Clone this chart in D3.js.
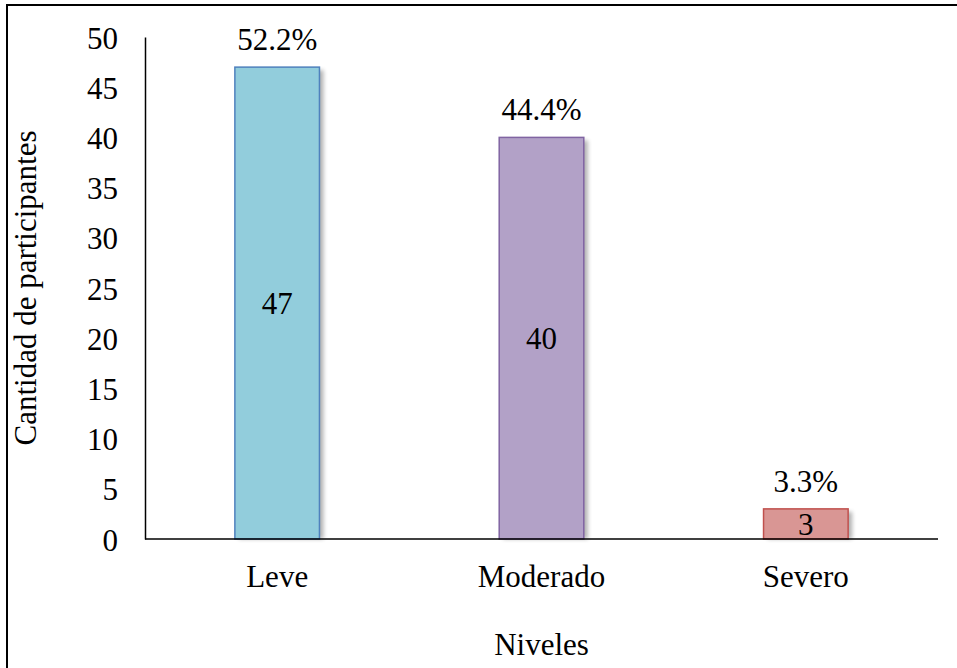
<!DOCTYPE html>
<html>
<head>
<meta charset="utf-8">
<script src="https://cdn.jsdelivr.net/npm/d3@7"></script>
</head>
<body style="margin:0">
<svg id="chart" width="957" height="668"></svg>
<script>
var categories = ["Leve", "Moderado", "Severo"];
var counts = [47, 40, 3];
var percents = ["52.2%", "44.4%", "3.3%"];
var fills = ["#92CDDC", "#B2A1C7", "#D99694"];
var strokes = ["#4F81BD", "#8064A2", "#C0504D"];
var yTicks = [0, 5, 10, 15, 20, 25, 30, 35, 40, 45, 50];

var svg = d3.select("#chart");

function serif(sel) {
    sel.style("font-family", "'Liberation Serif', 'Times New Roman', serif", "important")
       .style("font-size", "31px", "important")
       .style("fill", "#000");
}

// outer frame (runs off the right and bottom edge)
svg.append("rect")
    .attr("x", 7).attr("y", 5)
    .attr("width", 1000).attr("height", 700)
    .attr("fill", "none")
    .attr("stroke", "#000")
    .attr("stroke-width", 2);

var plotLeft = 145, plotRight = 938, plotTop = 37, plotBottom = 539;

var x = d3.scaleBand().domain(categories).range([plotLeft, plotRight]).paddingInner(0.68).paddingOuter(0.34);
var y = d3.scaleLinear().domain([0, 50]).range([plotBottom, plotTop]);

var g = svg.append("g");

// soft shadow to the lower right of each bar
g.selectAll(".shade")
    .data(counts)
    .enter().append("rect")
    .attr("class", "shade")
    .attr("x", function(d, i) { return x(categories[i]) + 4; })
    .attr("y", function(d) { return y(d) + 3; })
    .attr("width", x.bandwidth())
    .attr("height", function(d) { return y(0) - y(d) - 3; })
    .attr("fill", "#000")
    .attr("opacity", 0.3)
    .style("filter", "blur(2px)");

// bars
g.selectAll(".bar")
    .data(counts)
    .enter().append("rect")
    .attr("class", "bar")
    .attr("x", function(d, i) { return x(categories[i]); })
    .attr("y", function(d) { return y(d); })
    .attr("width", x.bandwidth())
    .attr("height", function(d) { return y(0) - y(d); })
    .attr("fill", function(d, i) { return fills[i]; })
    .attr("stroke", function(d, i) { return strokes[i]; })
    .attr("stroke-width", 1.5);

// y axis
var yAxis = g.append("g")
    .attr("transform", "translate(" + plotLeft + ",0)")
    .call(d3.axisLeft(y).tickValues(yTicks).tickSize(0).tickPadding(27));
yAxis.attr("font-family", null).attr("font-size", null);
yAxis.select(".domain").attr("stroke", "#000").attr("stroke-width", 1.5);
yAxis.selectAll("text")
    .call(serif)
    .attr("dy", "0.36em");

// x axis
var xAxis = g.append("g")
    .attr("transform", "translate(0," + plotBottom + ")")
    .call(d3.axisBottom(x).tickSize(0).tickPadding(26));
xAxis.attr("font-family", null).attr("font-size", null);
xAxis.select(".domain").attr("stroke", "#000").attr("stroke-width", 1.5)
    .attr("d", "M" + plotLeft + ",0H" + plotRight);
xAxis.selectAll("text")
    .call(serif)
    .attr("dy", "0.71em");

// value labels inside the bars
g.selectAll(".val")
    .data(counts)
    .enter().append("text")
    .attr("class", "val")
    .attr("x", function(d, i) { return x(categories[i]) + x.bandwidth() / 2; })
    .attr("y", function(d) { return y(d / 2); })
    .attr("dy", "0.35em")
    .attr("text-anchor", "middle")
    .call(serif)
    .text(function(d) { return d; });

// percentage labels above the bars
g.selectAll(".pct")
    .data(percents)
    .enter().append("text")
    .attr("class", "pct")
    .attr("x", function(d, i) { return x(categories[i]) + x.bandwidth() / 2; })
    .attr("y", function(d, i) { return y(counts[i]) - 17; })
    .attr("text-anchor", "middle")
    .call(serif)
    .text(function(d) { return d; });

// axis titles
svg.append("text")
    .attr("transform", "translate(36," + (plotTop + plotBottom) / 2 + ") rotate(-90)")
    .attr("text-anchor", "middle")
    .call(serif)
    .text("Cantidad de participantes");

svg.append("text")
    .attr("x", (plotLeft + plotRight) / 2)
    .attr("y", 655)
    .attr("text-anchor", "middle")
    .call(serif)
    .text("Niveles");
</script>
</body>
</html>
